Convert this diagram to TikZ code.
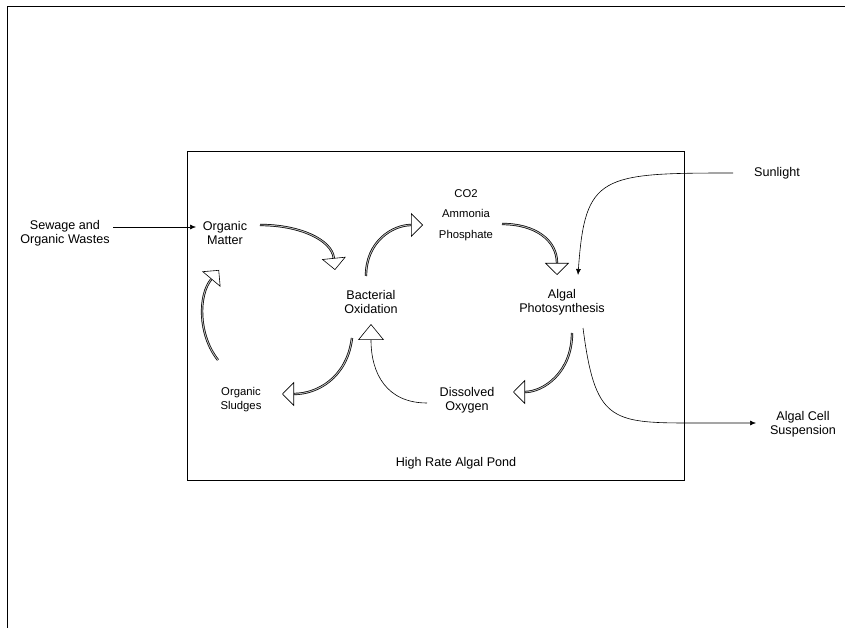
\documentclass[tikz,border=0pt]{standalone}
\usepackage{fontspec}
\setmainfont{Liberation Sans}
\usepackage{tikz}
\usetikzlibrary{arrows.meta}

\tikzset{
  lbl/.style={font=\fontsize{12.6}{14}\selectfont,align=center,inner sep=1pt},
  lblsmall/.style={lbl,font=\fontsize{11.3}{14}\selectfont},
  flow/.style={line width=0.7pt,double=gray!55,double distance=0.9pt,
    -{Triangle[fill=white,length=12pt,width=24pt,line width=0.6pt]}},
  feed/.style={line width=0.6pt,-{Latex[length=6pt,width=5pt]}}
}

\begin{document}
\begin{tikzpicture}[x=1pt,y=-1pt]
    \useasboundingbox (0,0) rectangle (849,628);
    \draw[line width=0.9pt] (7,628) -- (7,6) -- (845,6);
    \draw[line width=0.7pt] (187,151) rectangle (684,480);

    \path
    (65,233) node[lbl](sew){Sewage and\\Organic Wastes}
    (225,233) node[lbl](om){Organic\\Matter}
    (466,215) node[lblsmall,font=\fontsize{11.3}{20.5}\selectfont](nut){CO2\\Ammonia\\Phosphate}
    (371,302) node[lbl](bo){Bacterial\\Oxidation}
    (562,302) node[lbl](ap){Algal\\Photosynthesis}
    (241,400) node[lblsmall](os){Organic\\Sludges}
    (467,400) node[lbl](do){Dissolved\\Oxygen}
    (777,173) node[lbl](sun){Sunlight}
    (803,424) node[lbl](acs){Algal Cell\\Suspension}
    (456,463) node[lbl](pond){High Rate Algal Pond};

    % cycle inside the pond
    \draw[flow] ([shift={(35,-8)}]om.center) .. controls +(40,0) and +(-3,-30) .. ([shift={(-36,-32)}]bo.center);
    \draw[flow] ([shift={(-5,-26)}]bo.center) .. controls +(0,-35) and +(-30,0) .. ([shift={(-43,10)}]nut.center);
    \draw[flow] ([shift={(36,9)}]nut.center) .. controls +(33,0) and +(0,-35) .. ([shift={(-5,-27)}]ap.center);
    \draw[flow] ([shift={(10,31)}]ap.center) .. controls +(0,40) and +(30,0) .. ([shift={(46,-8)}]do.center);
    \draw[flow] ([shift={(-19,36)}]bo.center) .. controls +(-5,40) and +(35,0) .. ([shift={(41,-6)}]os.center);
    \draw[flow] ([shift={(-23,-40)}]os.center) .. controls +(-20,-25) and +(-21,25) .. ([shift={(-6,37)}]om.center);
    \draw[line width=0.6pt,-{Triangle[fill=white,length=16pt,width=26pt,line width=0.6pt]}]
      ([shift={(-40,3)}]do.center) .. controls +(-40,0) and +(0,50) .. ([shift={(0,22)}]bo.center);

    % in and out of the pond
    \draw[feed] ([shift={(48,-6)}]sew.center) -- ([shift={(-29,-6)}]om.center);
    \draw[feed] ([shift={(-44,0)}]sun.center) .. controls +(-133,0) and +(7,-100) .. ([shift={(16,-27)}]ap.center);
    \draw[feed] ([shift={(21,26)}]ap.center) .. controls +(12,92) and +(-80,0) .. ++(107,95) -- ([shift={(-47,-1)}]acs.center);
\end{tikzpicture}
\end{document}
